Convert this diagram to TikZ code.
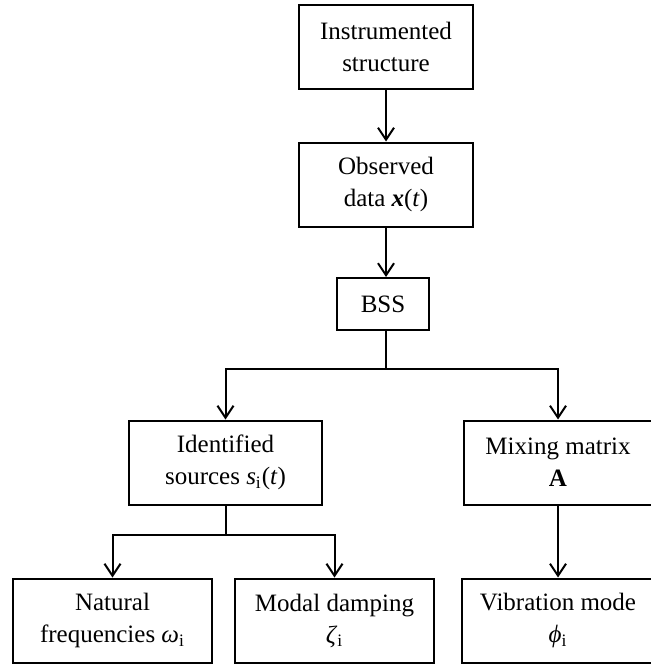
\documentclass[tikz,border=0pt]{standalone}
\usepackage{fontspec}
\setmainfont{Liberation Serif}
\usetikzlibrary{arrows.meta}

\begin{document}
\begin{tikzpicture}[x=0.5pt, y=-0.5pt,
       line width=1pt,
       box/.style = {draw, align=center, inner sep=2pt,
                     minimum width=#1, minimum height=42pt},
     elbow/.style = {to path={-| (\tikztotarget)}},
every node/.style = {font=\fontsize{12.5}{16}\selectfont},
every edge/.style = {draw, -{Straight Barb[length=6pt, width=8pt]}}
                        ]
\useasboundingbox (0,0) rectangle (650,664);
\node (inst) at (386,46.5) [box=87pt] {Instrumented\\structure};
\node (obs) at (386,184.5) [box=87pt] {Observed\\data \textbf{\textit{x}}(\textit{t})};
\node (bss) at (383,304) [box=46pt, minimum height=26pt] {BSS};
\node (ident) at (225.5,462.5) [box=96.5pt] {Identified\\sources \textit{s}\textsubscript{i}(\textit{t})};
\node (mix) at (558,462.5) [box=94pt] {Mixing matrix\\\textbf{A}};
\node (nat) at (112.5,620.5) [box=99.5pt] {Natural\\frequencies \textit{ω}\textsubscript{i}};
\node (damp) at (334.5,620.5) [box=99.5pt] {Modal damping\\\textit{ζ}\textsubscript{i}};
\node (vib) at (558,620.5) [box=96pt] {Vibration mode\\\textit{ϕ}\textsubscript{i}};
\coordinate (split) at (386,369);
\coordinate (fork) at (225.5,535);

%

\path   (inst) edge (obs)
        (obs) edge (obs |- bss.north)
        (bss.south -| split) edge[-] (split)
        (split) edge[elbow] (ident)
        (split) edge[elbow] (mix)
        (ident) edge[-] (fork)
        (fork) edge[elbow] (nat)
        (fork) edge[elbow] (damp)
        (mix) edge (vib);
\end{tikzpicture}
\end{document}
